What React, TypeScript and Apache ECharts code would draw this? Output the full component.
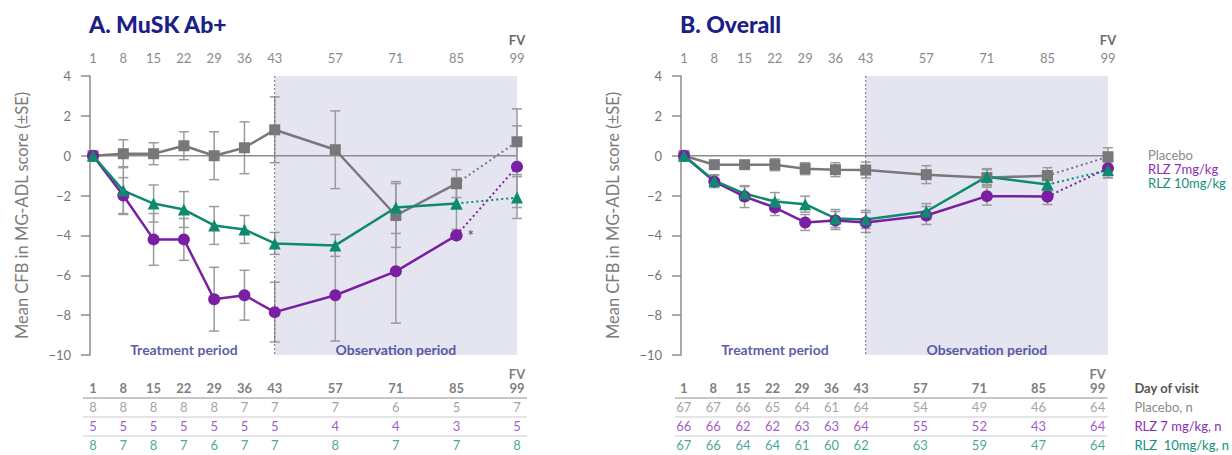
import React, { useEffect, useRef } from 'react';
import * as echarts from 'echarts';

// ---------- data ----------
const days = [1, 8, 15, 22, 29, 36, 43, 57, 71, 85, 99];
const treatmentEndDay = 43;

// Panel A – MuSK Ab+ (mean CFB and SE)
const aPlacebo = [0, 0.1, 0.1, 0.5, 0, 0.4, 1.3, 0.3, -3.0, -1.4, 0.7];
const aPlaceboSE = [0, 0.7, 0.55, 0.7, 1.2, 1.3, 1.65, 1.95, 1.6, 0.7, 1.65];
const aRlz7 = [0, -2.0, -4.2, -4.2, -7.2, -7.0, -7.85, -7.0, -5.8, -4.0, -0.55];
const aRlz7SE = [0, 0.9, 1.3, 1.05, 1.6, 1.25, 1.5, 2.3, 2.6, 0, 2.05];
const aRlz10 = [0, -1.75, -2.4, -2.7, -3.5, -3.7, -4.4, -4.5, -2.6, -2.4, -2.1];
const aRlz10SE = [0, 1.2, 0.93, 0.9, 0.95, 0.7, 0.55, 0.55, 1.3, 1.3, 1.05];

// Panel B – Overall
const bPlacebo = [0, -0.45, -0.45, -0.45, -0.65, -0.7, -0.72, -0.95, -1.1, -1.0, -0.05];
const bPlaceboSE = [0, 0.15, 0.15, 0.3, 0.3, 0.35, 0.4, 0.45, 0.4, 0.4, 0.45];
const bRlz7 = [0, -1.3, -2.05, -2.6, -3.35, -3.25, -3.35, -3.0, -2.03, -2.05, -0.63];
const bRlz7SE = [0, 0.3, 0.55, 0.4, 0.4, 0.45, 0.5, 0.45, 0.45, 0.4, 0.45];
const bRlz10 = [0, -1.25, -1.9, -2.3, -2.43, -3.15, -3.2, -2.8, -1.05, -1.45, -0.72];
const bRlz10SE = [0, 0.3, 0.35, 0.45, 0.4, 0.45, 0.45, 0.4, 0.4, 0.35, 0.4];

// Patients (n) per visit
const nAPlacebo = [8, 8, 8, 8, 8, 7, 7, 7, 6, 5, 7];
const nARlz7 = [5, 5, 5, 5, 5, 5, 5, 4, 4, 3, 5];
const nARlz10 = [8, 7, 8, 7, 6, 7, 7, 8, 7, 7, 8];
const nBPlacebo = [67, 67, 66, 65, 64, 61, 64, 54, 49, 46, 64];
const nBRlz7 = [66, 66, 62, 62, 63, 63, 64, 55, 52, 43, 64];
const nBRlz10 = [67, 66, 64, 64, 61, 60, 62, 63, 59, 47, 64];

const groupNames = ['Placebo', 'RLZ 7mg/kg', 'RLZ 10mg/kg'];
const tableRowNames = ['RLZ  10mg/kg, n', 'RLZ 7 mg/kg, n', 'Placebo, n', 'Day of visit'];
const panelTitles = ['A. MuSK Ab+', 'B. Overall'];
const yAxisTitle = 'Mean CFB in MG-ADL score (\u00B1SE)';
const periodNames = ['Treatment period', 'Observation period'];
const finalVisitTag = 'FV';
const noteText = '*';

// ---------- style ----------
const FONT = 'Lato, "Open Sans", "DejaVu Sans", sans-serif';
const LINE_COLORS = ['#78787a', '#7a1fa2', '#0e8a6f'];
const TEXT_COLORS = ['#8a8a8a', '#8b2db3', '#13917a'];
const SYMBOLS = ['rect', 'circle', 'triangle'];
const SYMBOL_SIZES = [11, 12, 12];
const AXIS_GRAY = '#8c8c8c';
const SHADE = '#e4e5f1';
const NAVY = '#1b2088';
const PERIOD_BLUE = '#2e3190';

const X_MIN = 0.3;
const X_MAX = 99;
const Y_MIN = -10;
const Y_MAX = 4;
const GRID_W = 427;
const PX_PER_DAY = GRID_W / (X_MAX - X_MIN);

const panels = [
  {
    left: 90, tableLeft: 83, tableRight: 527,
    means: [aPlacebo, aRlz7, aRlz10],
    ses: [aPlaceboSE, aRlz7SE, aRlz10SE],
    ns: [nAPlacebo, nARlz7, nARlz10],
    rowLabels: false, note: { group: 1, index: 9 } as null | { group: number; index: number },
  },
  {
    left: 681, tableLeft: 675, tableRight: 1118,
    means: [bPlacebo, bRlz7, bRlz10],
    ses: [bPlaceboSE, bRlz7SE, bRlz10SE],
    ns: [nBPlacebo, nBRlz7, nBRlz10],
    rowLabels: true, note: null as null | { group: number; index: number },
  },
];

function minusFmt(v: number) {
  return v < 0 ? '\u2212' + Math.abs(v) : String(v);
}

function buildOption() {
  const grid: any[] = [];
  const xAxis: any[] = [];
  const yAxis: any[] = [];
  const series: any[] = [];
  const title: any[] = [];

  panels.forEach((pn, p) => {
    title.push({
      text: panelTitles[p], left: pn.left - 6, top: 7,
      textStyle: { fontSize: 23, fontWeight: 900, color: NAVY, fontFamily: FONT },
    });
    // chart grid
    grid.push({ left: pn.left, top: 76, width: GRID_W, height: 279 });
    xAxis.push({
      gridIndex: p, type: 'value', position: 'top', min: X_MIN, max: X_MAX,
      axisLine: { show: false }, axisTick: { show: false }, splitLine: { show: false },
      axisLabel: {
        customValues: days, margin: 9, fontFamily: FONT, fontSize: 13, color: '#8a8a8a',
        formatter: (v: number) => (v === days[days.length - 1] ? `{fv|${finalVisitTag}}\n{d|${v}}` : `{d|${v}}`),
        rich: {
          fv: { fontFamily: FONT, fontSize: 13, fontWeight: 'bold', color: '#6a6a6a', lineHeight: 18 },
          d: { fontFamily: FONT, fontSize: 13, color: '#8a8a8a', lineHeight: 18 },
        },
      },
    });
    yAxis.push({
      gridIndex: p, type: 'value', min: Y_MIN, max: Y_MAX, interval: 2,
      axisLine: { show: true, lineStyle: { color: AXIS_GRAY, width: 1.5 } },
      axisTick: { show: true, length: 9, lineStyle: { color: AXIS_GRAY, width: 1.5 } },
      splitLine: { show: false },
      axisLabel: { margin: 19, fontFamily: FONT, fontSize: 13, color: '#747474', formatter: minusFmt },
      name: yAxisTitle, nameLocation: 'middle', nameGap: 60,
      nameTextStyle: { fontFamily: FONT, fontSize: 16.5, color: '#7a7a7a' },
    });
  });

  panels.forEach((pn, p) => {
    const tg = p + 2;
    const leftDay = X_MIN - (pn.left - pn.tableLeft) / PX_PER_DAY;
    const rightDay = X_MAX + (pn.tableRight - (pn.left + GRID_W)) / PX_PER_DAY;
    grid.push({ left: pn.tableLeft, top: 378, width: pn.tableRight - pn.tableLeft, height: 80 });
    xAxis.push({ gridIndex: tg, type: 'value', min: leftDay, max: rightDay, show: false });
    yAxis.push({
      gridIndex: tg, type: 'category', data: tableRowNames, position: 'right',
      axisLine: { show: false }, axisTick: { show: false },
      splitLine: { show: true, interval: 0, lineStyle: { width: 1.5, color: ['rgba(0,0,0,0)', '#dcdcdc', '#dcdcdc', '#b4b4b4', 'rgba(0,0,0,0)'] } },
      axisLabel: {
        show: pn.rowLabels, interval: 0, margin: 27, align: 'left', fontFamily: FONT, fontSize: 13,
        formatter: (v: string, i: number) => (i === 3 ? `{h|${v}}` : `{r${i}|${v}}`),
        rich: {
          h: { fontFamily: FONT, fontSize: 13, fontWeight: 'bold', color: '#555' },
          r2: { fontFamily: FONT, fontSize: 13, color: TEXT_COLORS[0] },
          r1: { fontFamily: FONT, fontSize: 13, color: TEXT_COLORS[1] },
          r0: { fontFamily: FONT, fontSize: 13, color: TEXT_COLORS[2] },
        },
      },
    });
  });

  panels.forEach((pn, p) => {
    const ax = { xAxisIndex: p, yAxisIndex: p };
    // zero line + shaded observation area
    series.push({
      type: 'line', ...ax, z: 2, silent: true, symbol: 'none',
      data: [[X_MIN, 0], [X_MAX, 0]],
      lineStyle: { color: AXIS_GRAY, width: 1.5 },
      markArea: {
        silent: true, itemStyle: { color: SHADE },
        data: [[{ coord: [treatmentEndDay, Y_MAX] }, { coord: [X_MAX, Y_MIN] }]],
      },
    });
    // dotted divider at end of treatment
    series.push({
      type: 'line', ...ax, z: 2, silent: true, symbol: 'none',
      data: [[treatmentEndDay, Y_MAX], [treatmentEndDay, Y_MIN]],
      lineStyle: { color: '#707070', width: 1, type: [2, 2] },
    });
    // error bars
    const eb: number[][] = [];
    pn.means.forEach((m, g) => {
      m.forEach((v, i) => {
        const se = pn.ses[g][i];
        if (se > 0) eb.push([days[i], v - se, v + se]);
      });
    });
    series.push({
      type: 'custom', ...ax, z: 2, silent: true, data: eb,
      renderItem: (params: any, api: any) => {
        const x = api.value(0);
        const top = api.coord([x, api.value(2)]);
        const bot = api.coord([x, api.value(1)]);
        const w = 5;
        const style = { stroke: '#9b9b9b', lineWidth: 1.5, fill: 'none' };
        return {
          type: 'group',
          children: [
            { type: 'line', shape: { x1: top[0], y1: top[1], x2: bot[0], y2: bot[1] }, style },
            { type: 'line', shape: { x1: top[0] - w, y1: top[1], x2: top[0] + w, y2: top[1] }, style },
            { type: 'line', shape: { x1: bot[0] - w, y1: bot[1], x2: bot[0] + w, y2: bot[1] }, style },
          ],
        };
      },
    });
    // group lines
    pn.means.forEach((m, g) => {
      const last = days.length - 1;
      const solid = days.slice(0, last).map((d, i) => {
        if (pn.note && pn.note.group === g && pn.note.index === i) {
          return {
            value: [d, m[i]],
            label: { show: true, formatter: noteText, position: 'right', distance: 5, color: '#444', fontSize: 15, fontFamily: FONT },
          };
        }
        return [d, m[i]];
      });
      series.push({
        name: groupNames[g], type: 'line', ...ax, z: 4, data: solid,
        symbol: SYMBOLS[g], symbolSize: SYMBOL_SIZES[g], showAllSymbol: true,
        lineStyle: { color: LINE_COLORS[g], width: 2.5 },
        itemStyle: { color: LINE_COLORS[g] },
      });
      series.push({
        name: groupNames[g], type: 'line', ...ax, z: 3,
        data: [[days[last - 1], m[last - 1]], [days[last], m[last]]],
        symbol: SYMBOLS[g], symbolSize: SYMBOL_SIZES[g],
        lineStyle: { color: LINE_COLORS[g], width: 2, type: [2, 3] },
        itemStyle: { color: LINE_COLORS[g] },
      });
    });
    // period labels
    const treatMid = (days[0] + treatmentEndDay) / 2;
    const obsMid = (treatmentEndDay + X_MAX) / 2;
    series.push({
      type: 'scatter', ...ax, z: 5, silent: true, symbolSize: 0,
      data: [[treatMid, Y_MIN + 0.3], [obsMid, Y_MIN + 0.3]],
      label: {
        show: true, position: 'inside', formatter: (pp: any) => periodNames[pp.dataIndex],
        fontFamily: FONT, fontSize: 14, fontWeight: 'bold', color: PERIOD_BLUE,
      },
    });

    // table
    const tax = { xAxisIndex: p + 2, yAxisIndex: p + 2 };
    series.push({
      type: 'scatter', ...tax, silent: true, symbolSize: 0,
      data: days.map((d, i) =>
        i === days.length - 1
          ? { value: [d, 3], label: { offset: [0, -7] } }
          : [d, 3]
      ),
      label: {
        show: true, position: 'inside',
        formatter: (pp: any) => (pp.dataIndex === days.length - 1 ? `${finalVisitTag}\n${days[pp.dataIndex]}` : String(days[pp.dataIndex])),
        fontFamily: FONT, fontSize: 13, fontWeight: 'bold', color: '#5a5a5a', lineHeight: 14,
      },
    });
    pn.ns.forEach((arr, g) => {
      series.push({
        type: 'scatter', ...tax, silent: true, symbolSize: 0,
        data: days.map((d) => [d, 2 - g]),
        label: {
          show: true, position: 'inside',
          formatter: (pp: any) => String(arr[pp.dataIndex]),
          fontFamily: FONT, fontSize: 13, color: TEXT_COLORS[g],
        },
      });
    });
  });

  return {
    animation: false,
    title,
    legend: {
      show: true, orient: 'vertical', left: 1137, top: 143,
      itemWidth: 0, itemHeight: 0, itemGap: 0, selectedMode: false,
      data: groupNames.map((n, i) => ({ name: n, textStyle: { color: TEXT_COLORS[i] } })),
      textStyle: { fontFamily: FONT, fontSize: 13, lineHeight: 14 },
    },
    grid,
    xAxis,
    yAxis,
    series,
  };
}

export default function App() {
  const ref = useRef<HTMLDivElement>(null);
  useEffect(() => {
    document.body.style.margin = '0';
    if (!ref.current) return;
    const chart = echarts.init(ref.current, undefined, { renderer: 'svg' });
    chart.setOption(buildOption() as any);
    return () => chart.dispose();
  }, []);
  return <div ref={ref} style={{ width: 1232, height: 455, background: '#fff' }} />;
}
